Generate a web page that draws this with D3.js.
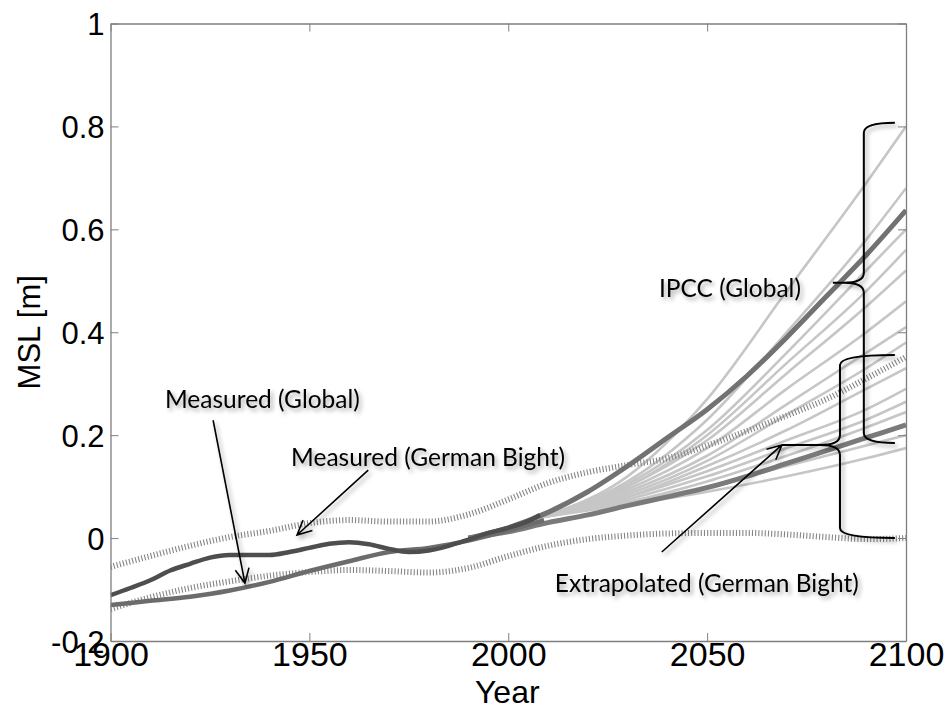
<!DOCTYPE html>
<html>
<head>
<meta charset="utf-8">
<script src="https://cdn.jsdelivr.net/npm/d3@7"></script>
<style>
  body { margin: 0; background: #fff; }
  svg { display: block; }
  .tick text { font-family: "Liberation Sans", Arial, sans-serif; }
</style>
</head>
<body>
<svg id="chart" width="945" height="709"></svg>
<script>
// measured series
const gbYears = [1900, 1905, 1910, 1915, 1920, 1925, 1930, 1935, 1940, 1945, 1950, 1955, 1960, 1965, 1970, 1975, 1980, 1985, 1990, 1995, 2000, 2005, 2008];
const gbMeasured = [-0.111, -0.097, -0.082, -0.063, -0.050, -0.038, -0.033, -0.033, -0.033, -0.027, -0.019, -0.011, -0.008, -0.012, -0.021, -0.027, -0.024, -0.015, -0.003, 0.010, 0.020, 0.033, 0.045];

const glYears = [1900, 1910, 1920, 1930, 1940, 1950, 1960, 1970, 1980, 1990, 2000, 2009];
const glMeasured = [-0.130, -0.122, -0.114, -0.102, -0.085, -0.064, -0.045, -0.027, -0.019, -0.005, 0.015, 0.035];

// confidence band (dotted)
const bandYears = [1900, 1910, 1920, 1930, 1940, 1950, 1960, 1970, 1980, 1990, 2000, 2010, 2020, 2030, 2040, 2050, 2060, 2070, 2080, 2090, 2100];
const bandUpper = [-0.056, -0.035, -0.015, 0.002, 0.014, 0.029, 0.035, 0.032, 0.032, 0.046, 0.075, 0.107, 0.128, 0.142, 0.155, 0.180, 0.208, 0.238, 0.270, 0.310, 0.352];
const bandLower = [-0.138, -0.115, -0.097, -0.084, -0.073, -0.066, -0.062, -0.064, -0.067, -0.058, -0.035, -0.015, -0.002, 0.005, 0.009, 0.010, 0.010, 0.007, 0.002, -0.002, 0.000];

// extrapolated German Bight trend
const extYears = [1990, 2000, 2010, 2020, 2030, 2040, 2050, 2060, 2070, 2080, 2090, 2100];
const extValues = [0.000, 0.012, 0.030, 0.045, 0.063, 0.080, 0.098, 0.120, 0.145, 0.170, 0.195, 0.220];

// IPCC mean
const ipccYears = [1990, 2000, 2010, 2020, 2030, 2040, 2050, 2060, 2070, 2080, 2090, 2100];
const ipccMean = [0.000, 0.020, 0.050, 0.090, 0.140, 0.195, 0.250, 0.315, 0.390, 0.470, 0.550, 0.637];

// IPCC scenarios (light lines)
const scenYears = [2008, 2030, 2050, 2070, 2090, 2100];
const scenarios = [
  [0.04, 0.120, 0.27, 0.48, 0.69, 0.80],
  [0.04, 0.110, 0.23, 0.40, 0.58, 0.68],
  [0.04, 0.105, 0.21, 0.36, 0.52, 0.60],
  [0.04, 0.100, 0.20, 0.34, 0.48, 0.56],
  [0.04, 0.100, 0.19, 0.32, 0.45, 0.52],
  [0.04, 0.095, 0.175, 0.29, 0.40, 0.46],
  [0.04, 0.090, 0.16, 0.26, 0.36, 0.41],
  [0.04, 0.085, 0.15, 0.24, 0.33, 0.38],
  [0.04, 0.080, 0.14, 0.21, 0.29, 0.33],
  [0.04, 0.080, 0.13, 0.19, 0.25, 0.29],
  [0.04, 0.075, 0.12, 0.175, 0.23, 0.265],
  [0.04, 0.070, 0.11, 0.16, 0.215, 0.245],
  [0.04, 0.070, 0.10, 0.14, 0.18, 0.20],
  [0.04, 0.065, 0.09, 0.12, 0.155, 0.175]
];

const xTicks = [1900, 1950, 2000, 2050, 2100];
const yTicks = [-0.2, 0, 0.2, 0.4, 0.6, 0.8, 1];

// annotations in data space
const labels = [
  {text: 'Measured (Global)', year: 1913.7, value: 0.253},
  {text: 'Measured (German Bight)', year: 1945.4, value: 0.140},
  {text: 'IPCC (Global)', year: 2037.9, value: 0.468},
  {text: 'Extrapolated (German Bight)', year: 2011.7, value: -0.105}
];
const arrows = [
  {from: [1925.8, 0.229], to: [1933.8, -0.0875]},
  {from: [1964.8, 0.132], to: [1946.9, 0.006]},
  {from: [2038.6, -0.027], to: [2068.8, 0.181]}
];
const braces = [
  {spine: 2089.4, tip: 2081.6, arm: 2097.2, top: 0.807, mid: 0.496, bottom: 0.185},
  {spine: 2083.4, tip: 2068.8, arm: 2097.2, top: 0.356, mid: 0.181, bottom: 0.000}
];

const svg = d3.select('#chart');
const margin = {left: 110.5, right: 39, top: 23.5, bottom: 68};
const width = 945 - margin.left - margin.right;
const height = 709 - margin.top - margin.bottom;

const x = d3.scaleLinear().domain([1900, 2100]).range([0, width]);
const y = d3.scaleLinear().domain([-0.2, 1]).range([height, 0]);

const defs = svg.append('defs');
defs.append('filter')
    .attr('id', 'shadow')
    .attr('x', '-20%').attr('y', '-20%')
    .attr('width', '140%').attr('height', '160%')
  .append('feDropShadow')
    .attr('dx', 2.5).attr('dy', 3)
    .attr('stdDeviation', 2)
    .attr('flood-color', '#000')
    .attr('flood-opacity', 0.35);

defs.append('clipPath').attr('id', 'clip')
  .append('rect').attr('width', width).attr('height', height);

const g = svg.append('g')
    .attr('transform', `translate(${margin.left},${margin.top})`);

const line = d3.line()
    .x(d => x(d[0]))
    .y(d => y(d[1]))
    .curve(d3.curveMonotoneX);

const zipped = (xs, ys) => xs.map((d, i) => [d, ys[i]]);

const plot = g.append('g').attr('clip-path', 'url(#clip)');

// light scenario lines
plot.selectAll('.scen')
  .data(scenarios)
  .join('path')
    .attr('class', 'scen')
    .attr('d', d => line(zipped(scenYears, d)))
    .attr('fill', 'none')
    .attr('stroke', '#c6c6c6')
    .attr('stroke-width', 2.6);

// dotted band
plot.selectAll('.band')
  .data([bandUpper, bandLower])
  .join('path')
    .attr('class', 'band')
    .attr('d', d => line(zipped(bandYears, d)))
    .attr('fill', 'none')
    .attr('stroke', '#858585')
    .attr('stroke-width', 6)
    .attr('stroke-dasharray', '1.1 2.1');

// thick lines
const thick = [
  {years: extYears, values: extValues, color: '#7a7a7a', w: 5},
  {years: ipccYears, values: ipccMean, color: '#727272', w: 5},
  {years: glYears, values: glMeasured, color: '#6c6c6c', w: 4.5},
  {years: gbYears, values: gbMeasured, color: '#4e4e4e', w: 4.5}
];
plot.selectAll('.thick')
  .data(thick)
  .join('path')
    .attr('class', 'thick')
    .attr('d', d => line(zipped(d.years, d.values)))
    .attr('fill', 'none')
    .attr('stroke', d => d.color)
    .attr('stroke-width', d => d.w);

// axes (box with inner ticks)
const axisColor = '#7f7f7f';

const xAxis = g.append('g')
    .attr('transform', `translate(0,${height})`)
    .call(d3.axisBottom(x).tickValues(xTicks).tickFormat(d3.format('d')).tickSizeInner(-8).tickSizeOuter(0).tickPadding(3));
const xTop = g.append('g')
    .call(d3.axisTop(x).tickValues(xTicks).tickFormat('').tickSizeInner(-8).tickSizeOuter(0));
const yAxis = g.append('g')
    .call(d3.axisLeft(y).tickValues(yTicks).tickFormat(d => d === 0 ? '0' : d3.format('.1~f')(d).replace('\u2212', '-')).tickSizeInner(-8).tickSizeOuter(0).tickPadding(6));
const yRight = g.append('g')
    .attr('transform', `translate(${width},0)`)
    .call(d3.axisRight(y).tickValues(yTicks).tickFormat('').tickSizeInner(-8).tickSizeOuter(0));

[xAxis, xTop, yAxis, yRight].forEach(a => {
  a.select('.domain').attr('stroke', axisColor).attr('stroke-width', 1.3);
  a.selectAll('.tick line').attr('stroke', axisColor).attr('stroke-width', 1);
  a.selectAll('.tick text').attr('fill', '#000');
});
xAxis.selectAll('.tick text').attr('font-size', 34).attr('dy', '0.64em');
yAxis.selectAll('.tick text').attr('font-size', 31).attr('dy', '0.36em');

svg.append('text')
    .attr('x', margin.left + width / 2 - 1)
    .attr('y', 703)
    .attr('text-anchor', 'middle')
    .attr('font-family', '"Liberation Sans", Arial, sans-serif')
    .attr('font-size', 32)
    .text('Year');

svg.append('text')
    .attr('transform', `translate(40,${margin.top + y(0.4)}) rotate(-90)`)
    .attr('text-anchor', 'middle')
    .attr('font-family', '"Liberation Sans", Arial, sans-serif')
    .attr('font-size', 31)
    .text('MSL [m]');

// annotations
const ann = g.append('g').attr('filter', 'url(#shadow)');

ann.selectAll('.lab')
  .data(labels)
  .join('text')
    .attr('class', 'lab')
    .attr('x', d => x(d.year))
    .attr('y', d => y(d.value))
    .attr('font-family', 'Lato, "Open Sans", sans-serif')
    .attr('font-size', 24.5)
    .attr('fill', '#000')
    .text(d => d.text);

function arrowPath(a) {
  const x1 = x(a.from[0]), y1 = y(a.from[1]);
  const x2 = x(a.to[0]), y2 = y(a.to[1]);
  const ang = Math.atan2(y2 - y1, x2 - x1);
  const len = 16, spread = 0.45;
  const p = d3.path();
  p.moveTo(x1, y1);
  p.lineTo(x2, y2);
  p.moveTo(x2 - len * Math.cos(ang - spread), y2 - len * Math.sin(ang - spread));
  p.lineTo(x2, y2);
  p.lineTo(x2 - len * Math.cos(ang + spread), y2 - len * Math.sin(ang + spread));
  return p.toString();
}

ann.selectAll('.arrow')
  .data(arrows)
  .join('path')
    .attr('class', 'arrow')
    .attr('d', arrowPath)
    .attr('fill', 'none')
    .attr('stroke', '#000')
    .attr('stroke-width', 1.6);

function bracePath(b) {
  const sx = x(b.spine), tx = x(b.tip), ax = x(b.arm);
  const yt = y(b.top), ym = y(b.mid), yb = y(b.bottom);
  const r = 10;
  const p = d3.path();
  p.moveTo(ax, yt);
  p.quadraticCurveTo(sx, yt, sx, yt + r);
  p.lineTo(sx, ym - r);
  p.quadraticCurveTo(sx, ym, sx - r * 2, ym);
  p.lineTo(tx, ym);
  p.moveTo(sx - r * 2, ym);
  p.quadraticCurveTo(sx, ym, sx, ym + r);
  p.lineTo(sx, yb - r);
  p.quadraticCurveTo(sx, yb, ax, yb);
  return p.toString();
}

ann.selectAll('.brace')
  .data(braces)
  .join('path')
    .attr('class', 'brace')
    .attr('d', bracePath)
    .attr('fill', 'none')
    .attr('stroke', '#000')
    .attr('stroke-width', 2);
</script>
</body>
</html>
